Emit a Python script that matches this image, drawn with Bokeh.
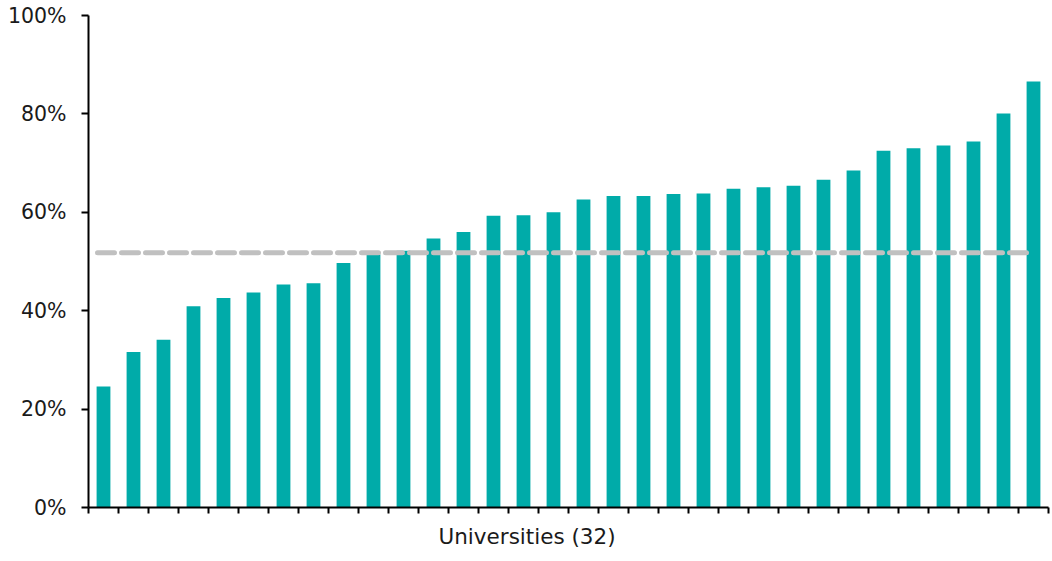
from bokeh.plotting import figure
from bokeh.models import Range1d, FixedTicker, PrintfTickFormatter, ColumnDataSource, CustomJSTickFormatter, Title
from bokeh.embed import file_html
from bokeh.resources import INLINE

values = [24.6, 31.6, 34.1, 40.9, 42.6, 43.7, 45.3, 45.6, 49.7, 51.4,
          52.2, 54.7, 56.0, 59.3, 59.4, 60.0, 62.6, 63.3, 63.3, 63.7,
          63.8, 64.8, 65.1, 65.4, 66.6, 68.5, 72.5, 73.0, 73.6, 74.4,
          80.1, 86.6]
average = 51.8
x_label = "Universities (32)"
y_ticks = [0, 20, 40, 60, 80, 100]

n = len(values)
centers = [i + 0.5 for i in range(n)]
src = ColumnDataSource(dict(x=centers, top=values))

p = figure(width=1050, height=561, output_backend="svg", toolbar_location=None,
           x_range=Range1d(0, n), y_range=Range1d(0, 100),
           min_border_left=88, min_border_right=2, min_border_top=15, min_border_bottom=54)
p.outline_line_color = None
p.xgrid.visible = False
p.ygrid.visible = False

p.vbar(x="x", top="top", width=0.46, bottom=0, source=src,
       fill_color="#00ABA9", line_color=None)
p.line(x=[centers[0] - 0.2, centers[-1] - 0.2], y=[average, average], line_color="#C0C0C0",
       line_width=5, line_dash="17 7", line_cap="round")

font = "DejaVu Sans"
ya = p.yaxis[0]
ya.ticker = FixedTicker(ticks=y_ticks)
ya.formatter = PrintfTickFormatter(format="%d%%")
ya.axis_line_color = "black"
ya.axis_line_width = 2
ya.major_tick_line_width = 2
ya.major_tick_in = 0
ya.major_tick_out = 7
ya.minor_tick_line_color = None
ya.major_label_text_font = font
ya.major_label_text_font_size = "20.5px"
ya.major_label_text_color = "#1a1a1a"
ya.major_label_standoff = 15

xa = p.xaxis[0]
xa.ticker = FixedTicker(ticks=list(range(n + 1)))
xa.formatter = CustomJSTickFormatter(code="return ''")
xa.major_label_standoff = 0
xa.axis_line_color = "black"
xa.axis_line_width = 2
xa.major_tick_line_width = 2
xa.major_tick_in = 0
xa.major_tick_out = 6
xa.minor_tick_line_color = None

# axis title, placed left of the frame centre as in the reference
p.add_layout(Title(text=x_label, align="left", offset=350, text_font=font,
                   text_font_size="21.5px", text_font_style="normal",
                   text_color="#1a1a1a", standoff=20, vertical_align="top"), "below")

open("out.html", "w").write(file_html(p, INLINE))
